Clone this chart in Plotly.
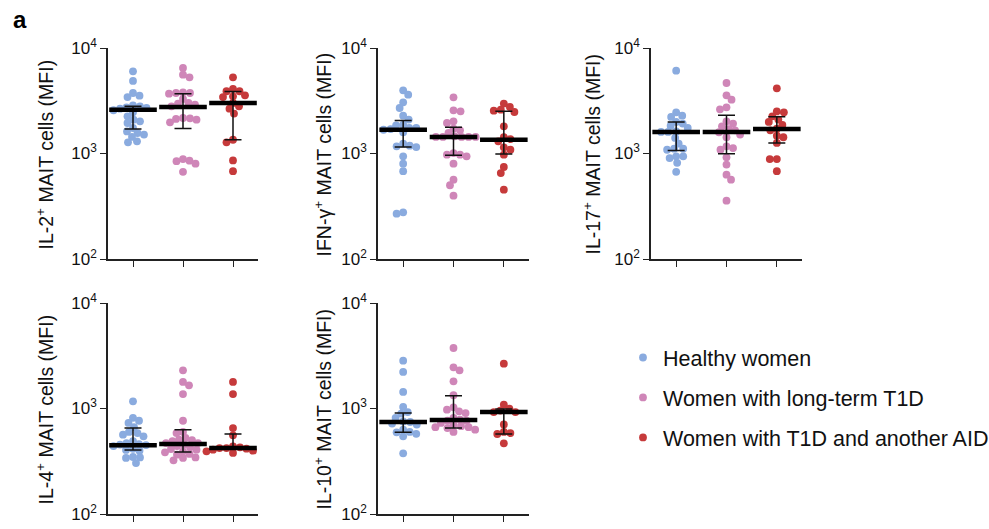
import numpy as np
import plotly.graph_objects as go

# ---------------- data (MFI values) ----------------
groups = ["Healthy women", "Women with long-term T1D", "Women with T1D and another AID"]
colors = ["#8AABDF", "#CF86B8", "#C63A3B"]

il2_healthy = [6010, 4870, 3745, 3530, 3430, 2860, 2800, 2740, 2700, 2660, 2570, 2455, 2250,
               2090, 2020, 1945, 1745, 1620, 1565, 1510, 1435, 1305, 1275]
il2_t1d = [6460, 5590, 5270, 3800, 3745, 3745, 3690, 3290, 3010, 2970, 2900, 2800, 2170, 2155,
           2125, 2090, 1975, 885, 855, 845, 800, 670]
il2_aid = [5270, 4090, 3890, 3890, 3560, 3480, 3430, 3010, 2800, 2660, 2390, 1350, 1275, 860, 680]

ifng_healthy = [3970, 3610, 3055, 2700, 2285, 2095, 1875, 1850, 1745, 1745, 1705, 1680, 1590,
                1240, 1185, 1170, 1150, 940, 800, 680, 277, 269]
ifng_t1d = [3410, 2565, 2510, 2020, 1945, 1720, 1660, 1565, 1455, 1435, 1435, 1435, 1435, 1435,
            1010, 975, 975, 940, 800, 565, 500, 398]
ifng_aid = [2970, 2760, 2600, 2545, 2475, 1810, 1425, 1370, 1305, 1145, 1085, 975, 745, 653, 454]

il17_healthy = [6100, 2455, 2285, 2220, 1990, 1920, 1835, 1745, 1620, 1600, 1600, 1405, 1240,
                1110, 1110, 1085, 940, 940, 905, 815, 670]
il17_t1d = [4660, 3560, 3240, 2740, 2620, 2020, 1920, 1810, 1705, 1660, 1590, 1510, 1425, 1170,
            1125, 1085, 920, 785, 630, 565, 357]
il17_aid = [4150, 2510, 2455, 2250, 2095, 1990, 1865, 1720, 1660, 1475, 1425, 1260, 885, 885, 680]

il4_healthy = [1170, 815, 765, 730, 665, 600, 585, 565, 545, 490, 470, 460, 455, 450, 440, 415,
               405, 398, 347, 344, 340, 304]
il4_t1d = [2300, 1785, 1660, 1370, 765, 600, 585, 525, 507, 500, 490, 470, 470, 455, 440, 430,
           413, 407, 393, 384, 371, 365, 344, 340, 323]
il4_aid = [1785, 1370, 653, 557, 438, 429, 422, 422, 416, 407, 398, 393, 379]

il10_healthy = [2840, 2220, 1435, 1035, 925, 895, 815, 755, 745, 720, 705, 630, 600, 595, 575,
                545, 376]
il10_t1d = [3745, 2455, 2300, 1810, 1335, 1025, 975, 940, 905, 815, 785, 765, 765, 730, 705,
            680, 665, 665, 653, 630, 600]
il10_aid = [2660, 1085, 995, 955, 925, 925, 705, 600, 585, 573, 468]

# median and interquartile range shown by the bars (per group)
il2_median = [2600, 2760, 3010]
il2_q1 = [1710, 1730, 1350]
il2_q3 = [2800, 3690, 3860]
ifng_median = [1680, 1435, 1350]
ifng_q1 = [1150, 960, 990]
ifng_q3 = [2060, 1770, 2510]
il17_median = [1600, 1600, 1705]
il17_q1 = [1065, 995, 1260]
il17_q3 = [1990, 2300, 2235]
il4_median = [448, 461, 422]
il4_q1 = [405, 387, 416]
il4_q3 = [653, 630, 573]
il10_median = [745, 778, 926]
il10_q1 = [595, 653, 573]
il10_q3 = [907, 1323, 989]

y_titles = ["IL-2<sup>+</sup> MAIT cells (MFI)", "IFN-γ<sup>+</sup> MAIT cells (MFI)",
            "IL-17<sup>+</sup> MAIT cells (MFI)", "IL-4<sup>+</sup> MAIT cells (MFI)",
            "IL-10<sup>+</sup> MAIT cells (MFI)"]
tick_vals = [100, 1000, 10000]
tick_text = ["10<sup>2</sup>", "10<sup>3</sup>", "10<sup>4</sup>"]

panels = [
    (y_titles[0], [il2_healthy, il2_t1d, il2_aid], il2_median, il2_q1, il2_q3, 0, 0),
    (y_titles[1], [ifng_healthy, ifng_t1d, ifng_aid], ifng_median, ifng_q1, ifng_q3, 0, 1),
    (y_titles[2], [il17_healthy, il17_t1d, il17_aid], il17_median, il17_q1, il17_q3, 0, 2),
    (y_titles[3], [il4_healthy, il4_t1d, il4_aid], il4_median, il4_q1, il4_q3, 1, 0),
    (y_titles[4], [il10_healthy, il10_t1d, il10_aid], il10_median, il10_q1, il10_q3, 1, 1),
]

# ---------------- layout geometry ----------------
W, H = 989, 529
col_px = [(108, 258), (378, 529), (651, 802)]
row_px = [(48, 259), (303, 514)]
title_x_px = [44, 322, 591]
FONT = "Liberation Sans, Arial, sans-serif"
DOT = 7.8

PX_PER_DECADE = (row_px[0][1] - row_px[0][0]) / 2.0
PX_PER_UNIT = (col_px[0][1] - col_px[0][0]) / 3.0


def swarm(values, d=6.6):
    """Deterministic beeswarm offsets (in category units) so dots do not overlap much."""
    y = np.log10(np.asarray(values, float)) * PX_PER_DECADE
    order = np.argsort(-y, kind="stable")
    placed = []
    off = np.zeros(len(y))
    flip = 1
    for i in order:
        best = None
        for k in range(0, 400):
            cands = [0.0] if k == 0 else [flip * k * 0.5, -flip * k * 0.5]
            for c in cands:
                if all((c - px) ** 2 + (y[i] - py) ** 2 >= d * d for px, py in placed):
                    best = c
                    break
            if best is not None:
                break
        if best != 0:
            flip = -flip
        off[i] = best
        placed.append((best, y[i]))
    return off / PX_PER_UNIT


fig = go.Figure()
annotations = []

for p, (ytitle, series, med, q1, q3, r, c) in enumerate(panels):
    ax = "" if p == 0 else str(p + 1)
    xa, ya = "x" + ax, "y" + ax
    x0, x1 = col_px[c]
    y0, y1 = row_px[r]
    fig.layout["xaxis" + ax] = dict(
        domain=[x0 / W, x1 / W], range=[-0.5, 2.5], anchor=ya, automargin=False,
        tickvals=[0, 1, 2], showticklabels=False, ticks="outside", ticklen=6,
        tickwidth=1.3, tickcolor="#222", showline=True, linecolor="#222", linewidth=1.5,
        showgrid=False, zeroline=False, fixedrange=True)
    fig.layout["yaxis" + ax] = dict(
        domain=[1 - y1 / H, 1 - y0 / H], type="log", range=[2, 4], anchor=xa,
        automargin=False,
        tickvals=tick_vals, ticktext=tick_text, ticks="outside", ticklen=6, tickwidth=1.3,
        tickcolor="#222", showline=True, linecolor="#222", linewidth=1.5, showgrid=False,
        zeroline=False, tickfont=dict(family=FONT, size=17, color="#111"), fixedrange=True)

    for g, vals in enumerate(series):
        xs = g + swarm(vals)
        fig.add_trace(go.Scatter(
            x=xs, y=vals, xaxis=xa, yaxis=ya, mode="markers", name=groups[g],
            legendgroup=groups[g], showlegend=(p == 0),
            marker=dict(size=DOT, color=colors[g], line=dict(width=0)),
            hoverinfo="y"))

    cats = [0, 1, 2]
    fig.add_trace(go.Scatter(
        x=cats, y=med, xaxis=xa, yaxis=ya, mode="markers", showlegend=False,
        marker=dict(size=1, color="rgba(0,0,0,0)"),
        error_y=dict(type="data", symmetric=False,
                     array=[b - m for b, m in zip(q3, med)],
                     arrayminus=[m - a for a, m in zip(q1, med)],
                     color="#111", thickness=1.5, width=8.5),
        hoverinfo="skip"))
    fig.add_trace(go.Scatter(
        x=cats, y=med, xaxis=xa, yaxis=ya, mode="markers", showlegend=False,
        marker=dict(symbol="line-ew", size=34, color="black",
                    line=dict(color="black", width=4.5)),
        hoverinfo="y"))

    annotations.append(dict(
        text=ytitle, textangle=-90, xref="paper", yref="paper",
        x=title_x_px[c] / W, y=1 - ((y0 + y1) / 2 + 1) / H, xanchor="center",
        yanchor="middle", showarrow=False, font=dict(family=FONT, size=19.5, color="#111")))

annotations.append(dict(text="<b>a</b>", xref="paper", yref="paper", x=11 / W, y=1 - 4 / H,
                        xanchor="left", yanchor="top", showarrow=False,
                        font=dict(family=FONT, size=24, color="black")))

fig.update_layout(
    width=W, height=H, autosize=False,
    margin=dict(l=0, r=0, t=0, b=0, pad=0, autoexpand=False),
    paper_bgcolor="white", plot_bgcolor="white",
    annotations=annotations,
    legend=dict(x=623 / W, y=1 - 337 / H, xanchor="left", yanchor="top",
                font=dict(family=FONT, size=21.5, color="#111"),
                traceorder="grouped", tracegroupgap=9, itemsizing="trace",
                bgcolor="rgba(0,0,0,0)"),
    showlegend=True,
)

fig.write_html(
    "out.html",
    config={"displayModeBar": False, "responsive": False},
    post_script="document.body.style.margin='0';document.body.style.overflow='hidden';"
                "document.documentElement.style.overflow='hidden';",
)
